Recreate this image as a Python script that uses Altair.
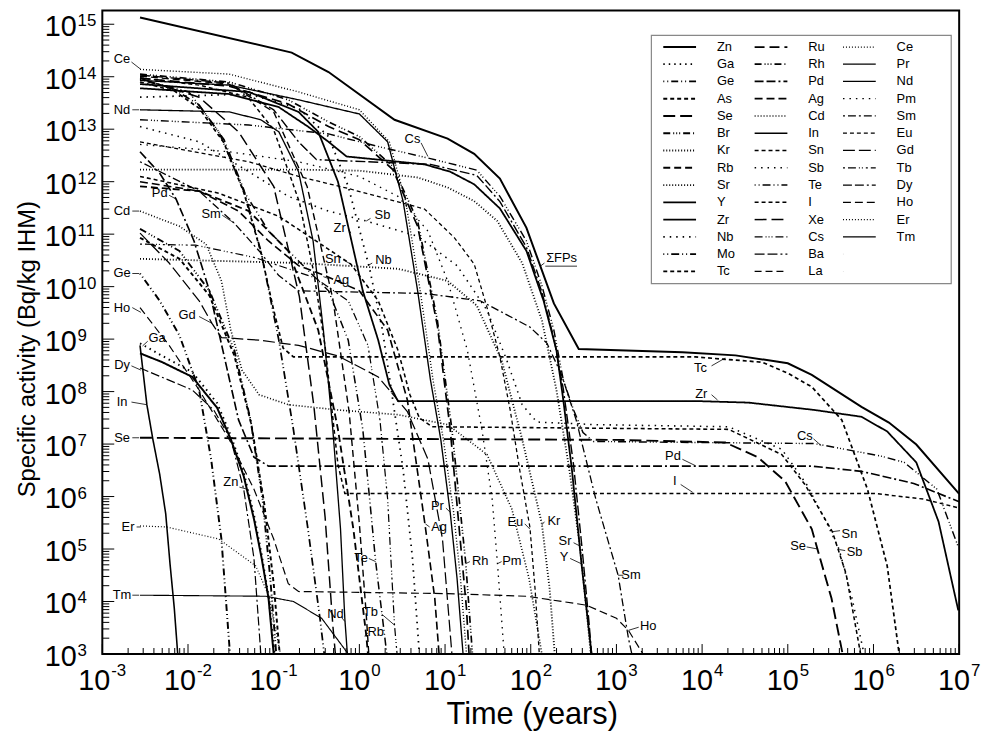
import altair as alt
import pandas as pd

FONT = "Liberation Sans"

# ---------------- curve data: (log10 time [years], log10 activity [Bq/kg IHM]) ----------------
SUM_FP = [(-2.56, 15.13), (-0.79, 14.46), (-0.36, 14.09), (0.41, 13.18), (1.03, 12.82), (1.34, 12.53),
          (1.64, 12.06), (1.95, 11.12), (2.27, 9.68), (2.56, 8.81), (3.77, 8.75), (4.39, 8.69),
          (5.00, 8.54), (5.28, 8.32), (5.86, 7.71), (6.18, 7.41), (6.50, 6.99), (7.00, 6.05)]

ZN = [(-2.56, 8.73), (-2.30, 8.56), (-1.95, 8.28), (-1.66, 7.69), (-1.50, 7.09), (-1.35, 6.39),
      (-1.23, 5.57), (-1.14, 4.82), (-1.06, 4.06), (-1.00, 3.0)]
GA = [(-2.56, 8.92), (-2.30, 8.68), (-1.95, 8.37), (-1.66, 7.78), (-1.50, 7.16), (-1.35, 6.46),
      (-1.23, 5.65), (-1.14, 4.89), (-1.06, 4.10), (-0.99, 3.0)]
GE = [(-2.56, 10.25), (-2.33, 9.73), (-2.10, 9.07), (-1.87, 8.03), (-1.73, 6.71), (-1.61, 5.19),
      (-1.55, 3.87), (-1.51, 3.0)]
AS = [(-2.56, 10.93), (-2.10, 10.53), (-1.75, 9.83), (-1.46, 8.69), (-1.26, 7.37), (-1.11, 5.86),
      (-1.00, 4.34), (-0.93, 3.0)]
SE = [(-2.56, 7.12), (3.00, 7.08), (4.27, 7.03), (4.65, 6.75), (4.97, 6.29), (5.28, 5.38), (5.51, 4.06),
      (5.64, 3.0)]
BR = [(-2.56, 11.10), (-2.10, 10.68), (-1.75, 9.92), (-1.46, 8.79), (-1.27, 7.46), (-1.13, 5.95),
      (-1.04, 4.44), (-0.97, 3.0)]
KR = [(-2.56, 10.53), (-0.71, 10.45), (0.45, 10.34), (1.03, 10.11), (1.37, 9.64), (1.66, 8.60),
      (1.90, 7.09), (2.13, 5.48), (2.22, 4.25), (2.28, 3.0)]
RB = [(-2.56, 11.91), (-1.87, 11.82), (-1.29, 11.44), (-0.83, 10.68), (-0.48, 9.17), (-0.25, 7.28),
      (-0.07, 5.38), (0.08, 3.36), (0.10, 3.0)]
SR = [(-2.56, 12.23), (-0.71, 12.23), (0.0, 12.21), (0.68, 12.08), (1.03, 11.89), (1.34, 11.63),
      (1.61, 11.25), (1.90, 10.45), (2.13, 9.36), (2.30, 8.03), (2.45, 6.52), (2.57, 5.10), (2.65, 3.87),
      (2.70, 3.0)]
Y_ = [(-2.56, 13.78), (-1.52, 13.67), (-0.94, 13.42), (-0.60, 13.05), (-0.36, 12.76), (-0.15, 12.48),
      (0.22, 12.42), (0.76, 12.33), (1.06, 12.19), (1.34, 11.95), (1.64, 11.49), (1.95, 10.68),
      (2.15, 9.73), (2.30, 8.79), (2.38, 7.84), (2.48, 6.52), (2.59, 4.76), (2.65, 3.87), (2.71, 3.0)]
ZR = [(-2.56, 13.86), (-1.29, 13.71), (-0.71, 13.33), (-0.48, 12.95), (-0.25, 12.00), (-0.11, 11.00),
      (0.04, 9.92), (0.22, 8.98), (0.35, 8.13), (0.45, 7.82), (3.92, 7.82), (4.54, 7.79), (5.31, 7.65),
      (5.86, 7.52), (6.16, 7.24), (6.50, 6.65), (6.76, 5.52), (6.99, 3.83)]
NB = [(-2.56, 13.61), (-1.29, 13.67), (-0.71, 13.40), (-0.36, 12.86), (-0.13, 11.91), (0.12, 10.34),
      (0.27, 9.17), (0.39, 7.84), (0.51, 6.52), (0.62, 4.82), (0.70, 3.0)]
MO = [(-2.56, 13.95), (-2.16, 13.76), (-1.87, 13.46), (-1.58, 12.80), (-1.35, 11.85), (-1.15, 10.68),
      (-0.94, 8.98), (-0.77, 7.28), (-0.60, 5.38), (-0.46, 3.68), (-0.41, 3.0)]
TC = [(-2.56, 13.90), (-2.16, 13.73), (-1.87, 13.40), (-1.58, 12.74), (-1.35, 11.80), (-1.15, 10.66),
      (-1.00, 9.55), (-0.89, 8.83), (-0.77, 8.66), (3.92, 8.66), (4.70, 8.56), (5.00, 8.35), (5.28, 8.09),
      (5.63, 7.46), (5.93, 6.14), (6.16, 4.68), (6.30, 3.0)]
RU = [(-2.56, 13.97), (-1.52, 13.82), (-0.83, 13.48), (-0.36, 13.05), (0.0, 12.80), (0.39, 12.23),
      (0.68, 11.15), (0.91, 9.26), (1.06, 7.28), (1.20, 4.76), (1.25, 3.87), (1.28, 3.0)]
RH = [(-2.56, 14.05), (-1.52, 13.90), (-0.83, 13.56), (-0.36, 13.14), (0.0, 12.86), (0.39, 12.29),
      (0.68, 11.25), (0.91, 9.36), (1.08, 7.28), (1.24, 4.76), (1.28, 3.87), (1.32, 3.0)]
PD = [(-2.56, 12.57), (-2.33, 12.16), (-2.14, 11.67), (-1.93, 10.87), (-1.75, 9.92), (-1.58, 8.69),
      (-1.41, 7.46), (-1.23, 6.75), (-1.06, 6.58), (5.28, 6.58), (5.86, 6.48), (6.47, 6.25), (7.00, 5.90)]
AG = [(-2.56, 12.00), (-1.87, 11.82), (-1.41, 11.44), (-1.06, 10.87), (-0.71, 10.40), (-0.40, 10.21),
      (0.0, 9.92), (0.33, 9.17), (0.56, 7.84), (0.77, 5.42), (0.88, 4.06), (0.93, 3.0)]
CD = [(-2.56, 11.44), (-2.10, 11.15), (-1.79, 10.81), (-1.61, 10.11), (-1.50, 9.17), (-1.37, 8.41),
      (-1.17, 7.94), (-0.83, 7.75), (-0.25, 7.65), (0.45, 7.56), (1.03, 7.37), (1.49, 6.80), (1.78, 5.76),
      (1.98, 4.44), (2.13, 3.0)]
IN = [(-2.56, 8.88), (-2.48, 7.75), (-2.41, 7.09), (-2.33, 6.42), (-2.26, 5.67), (-2.21, 4.72),
      (-2.16, 3.87), (-2.12, 3.0)]
SN = [(-2.56, 12.10), (-1.64, 11.78), (-0.94, 11.34), (-0.10, 10.43), (0.22, 9.73), (0.45, 8.79),
      (0.59, 7.94), (0.70, 7.50), (0.85, 7.33), (4.31, 7.28), (4.93, 6.80), (5.20, 6.23), (5.52, 5.33),
      (5.68, 4.53), (5.85, 3.0)]
SB = [(-2.56, 13.05), (-1.87, 12.76), (-1.29, 12.19), (-0.83, 11.72), (-0.36, 11.44), (0.08, 11.25),
      (0.68, 10.96), (1.14, 10.40), (1.49, 9.55), (1.72, 8.60), (1.90, 7.75), (2.07, 7.42), (2.76, 7.37),
      (4.31, 7.33), (4.93, 6.90), (5.22, 6.23), (5.46, 5.48), (5.60, 4.99), (5.75, 4.06), (5.89, 3.0)]
TE = [(-2.56, 13.95), (-1.99, 13.71), (-1.64, 12.95), (-1.35, 11.82), (-1.06, 11.06), (-0.71, 10.49),
      (-0.36, 9.92), (-0.13, 8.98), (0.04, 7.28), (0.12, 5.95), (0.19, 4.76), (0.27, 3.68), (0.32, 3.0)]
I_ = [(-2.56, 13.98), (-1.87, 13.84), (-1.30, 13.61), (-1.00, 12.99), (-0.70, 11.61), (-0.53, 10.25),
      (-0.40, 8.86), (-0.31, 7.50), (-0.25, 6.61), (-0.17, 6.06), (6.01, 6.06), (6.59, 5.95), (7.00, 5.78)]
XE = [(-2.56, 13.97), (-1.87, 13.61), (-1.41, 12.95), (-1.00, 11.91), (-0.70, 9.81), (-0.53, 7.71),
      (-0.40, 5.61), (-0.31, 3.55), (-0.28, 3.0)]
CS = [(-2.56, 13.18), (-1.29, 13.08), (-0.36, 12.91), (0.22, 12.67), (0.83, 12.44), (1.37, 12.22),
      (1.64, 11.72), (1.95, 10.87), (2.13, 10.02), (2.27, 9.17), (2.38, 8.22), (2.50, 7.65), (2.61, 7.22),
      (2.73, 7.05), (3.92, 7.03), (5.31, 7.01), (6.09, 6.77), (6.36, 6.65), (6.74, 6.14), (6.99, 5.04)]
BA = [(-2.56, 14.03), (-1.52, 13.88), (-1.00, 13.37), (-0.71, 12.76), (-0.50, 12.42), (0.83, 12.33),
      (1.37, 12.12), (1.64, 11.62), (1.95, 10.75), (2.13, 9.90), (2.27, 9.02), (2.38, 8.05), (2.50, 6.60),
      (2.60, 5.00), (2.68, 3.60), (2.71, 3.0)]
LA = [(-2.56, 14.01), (-1.52, 13.86), (-1.00, 13.33), (-0.61, 11.91), (-0.31, 9.77), (-0.12, 7.62),
      (0.0, 5.48), (0.08, 3.76), (0.11, 3.0)]
CE = [(-2.56, 14.14), (-1.52, 14.05), (-0.71, 13.71), (0.0, 13.37), (0.35, 12.76), (0.54, 11.63),
      (0.71, 9.92), (0.86, 8.22), (0.98, 7.09), (1.10, 5.70), (1.18, 4.44), (1.25, 3.0)]
PR = [(-2.56, 13.93), (-1.52, 13.84), (-0.71, 13.56), (0.0, 13.29), (0.33, 12.76), (0.51, 11.63),
      (0.68, 9.92), (0.83, 8.22), (0.95, 7.09), (1.06, 5.70), (1.14, 4.44), (1.21, 3.0)]
ND = [(-2.56, 13.37), (-1.52, 13.33), (-1.15, 13.18), (-0.94, 12.95), (-0.71, 12.19), (-0.54, 10.87),
      (-0.42, 9.17), (-0.31, 7.28), (-0.22, 5.38), (-0.17, 3.68), (-0.14, 3.0)]
PM = [(-2.56, 12.71), (-1.52, 12.57), (-0.71, 12.38), (0.0, 12.10), (0.45, 11.72), (0.80, 11.06),
      (1.03, 10.11), (1.26, 8.79), (1.43, 7.28), (1.55, 5.95), (1.61, 4.76), (1.69, 3.0)]
SM = [(-2.56, 12.38), (-1.87, 11.82), (-1.46, 11.21), (-1.17, 10.68), (-0.94, 10.21), (-0.71, 9.92),
      (0.76, 9.87), (1.41, 9.73), (1.69, 9.49), (1.99, 9.23), (2.19, 8.92), (2.36, 8.32), (2.53, 7.46),
      (2.76, 5.95), (3.02, 4.50), (3.14, 3.30), (3.18, 3.0)]
EU = [(-2.56, 12.76), (-1.29, 12.38), (-0.71, 12.10), (-0.13, 11.87), (0.76, 11.48), (1.11, 10.93),
      (1.34, 10.43), (1.49, 9.60), (1.64, 8.66), (1.76, 7.65), (1.87, 6.52), (1.99, 5.42), (2.05, 4.25),
      (2.10, 3.0)]
GD = [(-2.56, 11.02), (-2.22, 10.45), (-1.87, 9.73), (-1.72, 9.30), (-1.61, 9.03), (-1.17, 8.98),
      (-0.71, 8.88), (-0.25, 8.68), (0.22, 8.28), (0.56, 7.62), (0.80, 6.71), (0.97, 5.19), (1.08, 3.0)]
TB = [(-2.56, 10.81), (-1.91, 10.79), (-1.21, 10.55), (-0.52, 10.17), (-0.13, 9.73), (0.10, 8.88),
      (0.24, 7.46), (0.33, 5.95), (0.41, 3.55), (0.44, 3.0)]
DY = [(-2.56, 8.45), (-1.95, 8.03), (-1.70, 7.65), (-1.50, 7.09), (-1.35, 6.14), (-1.23, 4.82),
      (-1.15, 3.0)]
HO = [(-2.56, 9.60), (-2.22, 8.88), (-1.87, 8.03), (-1.52, 7.09), (-1.23, 6.14), (-1.00, 5.19),
      (-0.83, 4.34), (-0.71, 4.19), (1.03, 4.15), (1.95, 4.10), (2.65, 3.93), (3.00, 3.68), (3.14, 3.45),
      (3.31, 3.0)]
ER = [(-2.56, 5.44), (-2.25, 5.42), (-1.64, 5.19), (-1.21, 4.68), (-1.06, 4.12), (-0.92, 3.0)]
TM = [(-2.56, 4.12), (-1.09, 4.10), (-0.77, 4.00), (-0.44, 3.68), (-0.13, 3.0)]

# legend columns (as printed in the figure)
LEGEND_COL1 = ["Zn", "Ga", "Ge", "As", "Se", "Br", "Kr", "Rb", "Sr", "Y", "Zr", "Nb", "Mo", "Tc"]
LEGEND_COL2 = ["Ru", "Rh", "Pd", "Ag", "Cd", "In", "Sn", "Sb", "Te", "I", "Xe", "Cs", "Ba", "La"]
LEGEND_COL3 = ["Ce", "Pr", "Nd", "Pm", "Sm", "Eu", "Gd", "Tb", "Dy", "Ho", "Er", "Tm"]

# curve labels: (text, log10 t, log10 A)
LABELS = [("Ce", -2.77, 14.33), ("Nd", -2.77, 13.37), ("Cd", -2.77, 11.44), ("Ge", -2.77, 10.25),
          ("Ho", -2.77, 9.60), ("Ga", -2.36, 9.02), ("Dy", -2.77, 8.51), ("In", -2.77, 7.80),
          ("Se", -2.77, 7.12), ("Er", -2.70, 5.42), ("Tm", -2.77, 4.12), ("Pd", -2.33, 11.78),
          ("Sm", -1.73, 11.38), ("Gd", -2.01, 9.45), ("Zn", -1.50, 6.27), ("Sn", -0.31, 10.53),
          ("Zr", -0.23, 11.12), ("Sb", 0.27, 11.36), ("Nb", 0.28, 10.51), ("Ag", -0.21, 10.13),
          ("Cs", 0.62, 12.82), ("\u03a3FPs", 2.36, 10.55), ("Te", 0.02, 4.83), ("Nd", -0.28, 3.77),
          ("Tb", 0.13, 3.79), ("Rb", 0.19, 3.42), ("Pr", 0.91, 5.82), ("Ag", 0.93, 5.42),
          ("Rh", 1.41, 4.78), ("Pm", 1.78, 4.78), ("Eu", 1.82, 5.52), ("Kr", 2.27, 5.53),
          ("Sr", 2.40, 5.16), ("Y", 2.39, 4.85), ("Sm", 3.17, 4.51), ("Ho", 3.37, 3.53),
          ("Tc", 3.98, 8.45), ("Zr", 3.99, 7.96), ("Cs", 5.20, 7.16), ("Pd", 3.66, 6.77),
          ("I", 3.68, 6.29), ("Se", 5.12, 5.06), ("Sn", 5.72, 5.29), ("Sb", 5.78, 4.95)]

# leader lines from labels to curves: ((log t, log A), (log t, log A))
LEADERS = [((-2.66, 14.28), (-2.55, 14.14)), ((-2.65, 13.37), (-2.57, 13.37)),
           ((-2.65, 11.44), (-2.57, 11.44)), ((-2.65, 10.25), (-2.57, 10.25)),
           ((-2.65, 9.60), (-2.55, 9.51)), ((-2.47, 8.96), (-2.53, 8.87)),
           ((-2.66, 8.49), (-2.55, 8.41)), ((-2.66, 7.80), (-2.48, 7.75)),
           ((-2.65, 7.12), (-2.57, 7.12)), ((-2.60, 5.42), (-2.55, 5.42)),
           ((-2.65, 4.12), (-2.57, 4.12)), ((-2.22, 11.74), (-2.14, 11.67)),
           ((-1.60, 11.36), (-1.46, 11.21)), ((-1.87, 9.43), (-1.72, 9.30)),
           ((-1.40, 6.18), (-1.31, 6.14)), ((-0.19, 10.51), (-0.10, 10.43)),
           ((-0.13, 11.10), (-0.10, 11.02)), ((0.13, 11.30), (0.08, 11.25)),
           ((0.15, 10.45), (0.10, 10.40)), ((-0.35, 10.15), (-0.42, 10.19)),
           ((0.72, 12.74), (0.80, 12.48)), ((2.16, 10.45), (2.12, 10.40)),
           ((2.17, 10.39), (2.54, 10.39)), ((0.11, 4.82), (0.19, 4.76)),
           ((-0.21, 3.70), (-0.17, 3.62)), ((0.26, 3.76), (0.41, 3.55)),
           ((0.10, 3.40), (0.06, 3.34)), ((1.01, 5.78), (1.06, 5.70)),
           ((0.82, 5.42), (0.77, 5.48)), ((1.29, 4.76), (1.24, 4.72)),
           ((1.66, 4.76), (1.61, 4.72)), ((1.93, 5.48), (1.99, 5.38)),
           ((2.16, 5.52), (2.13, 5.46)), ((2.50, 5.12), (2.57, 5.06)),
           ((2.46, 4.82), (2.59, 4.72)), ((3.08, 4.50), (3.02, 4.50)),
           ((3.26, 3.51), (3.14, 3.45)), ((4.11, 8.49), (4.27, 8.64)),
           ((4.11, 7.94), (4.18, 7.84)), ((5.30, 7.10), (5.39, 6.97)),
           ((3.77, 6.71), (3.92, 6.59)), ((3.75, 6.23), (3.89, 6.08)),
           ((5.22, 5.04), (5.35, 5.00)), ((5.61, 5.35), (5.52, 5.33)),
           ((5.67, 4.97), (5.60, 4.99))]

X_EXPONENTS = list(range(-3, 8))
Y_EXPONENTS = list(range(3, 16))

# ---------------- styles ----------------
SOLID = [1, 0]
HIDDEN = ([0.1, 1000], 0.1)
STYLE = {
    "Zn": (SOLID, 2.0), "Ga": ([1.5, 4], 1.1), "Ge": ([1, 3, 1, 3, 7, 3], 1.1), "As": ([4, 3], 1.1),
    "Se": ([12, 5], 1.3), "Br": ([7, 3, 1, 2, 1, 2, 1, 3], 1.1), "Kr": ([1, 2], 1.1), "Rb": ([7, 4], 2.0),
    "Sr": ([1, 2], 1.1), "Y": (SOLID, 2.0), "Zr": (SOLID, 2.0), "Nb": ([1.5, 5], 1.1),
    "Mo": ([1, 3, 1, 3, 8, 3], 1.3), "Tc": ([4, 3], 1.1),
    "Ru": ([10, 5], 2.0), "Rh": ([7, 3, 1, 2, 1, 2, 1, 3], 1.3), "Pd": ([9, 3, 9, 3, 2, 3], 2.0),
    "Ag": ([8, 4], 1.1), "Cd": ([1, 2], 1.1), "In": (SOLID, 2.0), "Sn": ([4, 3], 1.1),
    "Sb": ([1.5, 5], 1.1), "Te": ([1, 3, 1, 3, 8, 3], 1.1), "I": ([4, 3], 1.1), "Xe": ([12, 5], 2.0),
    "Cs": ([8, 3, 1, 2, 1, 2, 1, 3], 1.3), "Ba": ([10, 3, 10, 3, 2, 3], 1.1), "La": ([7, 4], 2.0),
    "Ce": ([1, 2], 1.1), "Pr": (SOLID, 1.1), "Nd": (SOLID, 2.0), "Pm": ([1.5, 5], 1.1),
    "Sm": ([2, 3, 8, 3], 1.3), "Eu": ([4, 3], 1.1), "Gd": ([12, 4], 1.1),
    "Tb": ([2, 3, 8, 3, 1, 2, 1, 3], 1.1), "Dy": ([9, 3, 9, 3, 2, 3], 2.0), "Ho": ([8, 4], 1.1),
    "Er": ([1, 2], 1.1), "Tm": (SOLID, 1.1),
}

SERIES = [("Zn", ZN), ("Ga", GA), ("Ge", GE), ("As", AS), ("Se", SE), ("Br", BR), ("Kr", KR), ("Rb", RB),
          ("Sr", SR), ("Y", Y_), ("Zr", ZR), ("Nb", NB), ("Mo", MO), ("Tc", TC), ("Ru", RU), ("Rh", RH),
          ("Pd", PD), ("Ag", AG), ("Cd", CD), ("In", IN), ("Sn", SN), ("Sb", SB), ("Te", TE), ("I", I_),
          ("Xe", XE), ("Cs", CS), ("Ba", BA), ("La", LA), ("Ce", CE), ("Pr", PR), ("Nd", ND), ("Pm", PM),
          ("Sm", SM), ("Eu", EU), ("Gd", GD), ("Tb", TB), ("Dy", DY), ("Ho", HO), ("Er", ER), ("Tm", TM)]

# ---------------- tables ----------------
rows = []
for name, pts in SERIES:
    for lt, la in pts:
        rows.append({"element": name, "t": 10 ** lt, "A": 10 ** la})
lines_df = pd.DataFrame(rows)
sum_df = pd.DataFrame({"t": [10 ** p[0] for p in SUM_FP], "A": [10 ** p[1] for p in SUM_FP]})
labels_df = pd.DataFrame({"text": [l[0] for l in LABELS], "t": [10 ** l[1] for l in LABELS],
                          "A": [10 ** l[2] for l in LABELS]})
lead_rows = []
for i, (a, b) in enumerate(LEADERS):
    lead_rows.append({"id": i, "t": 10 ** a[0], "A": 10 ** a[1]})
    lead_rows.append({"id": i, "t": 10 ** b[0], "A": 10 ** b[1]})
leaders_df = pd.DataFrame(lead_rows)

# legend ordering: 3 full columns of 14 (two invisible fillers close the third column)
order = LEGEND_COL1 + LEGEND_COL2 + LEGEND_COL3 + ["_b1", "_b2"]
dash_range = [STYLE.get(e, HIDDEN)[0] for e in order]
width_range = [STYLE.get(e, HIDDEN)[1] for e in order]

W, H = 863, 648
xscale = alt.Scale(type="log", domain=[1e-3, 1e7], nice=False)
yscale = alt.Scale(type="log", domain=[1e3, 1.82e15], nice=False)
X = alt.X("t:Q", scale=xscale, axis=None)
Yenc = alt.Y("A:Q", scale=yscale, axis=None)

leg = alt.Legend(title=None, orient="none", legendX=568, legendY=23, columns=3,
                 symbolType="M-2.2,0H2.2", symbolSize=225, symbolStrokeColor="black",
                 labelFont=FONT, labelFontSize=13, labelColor="black", labelOffset=29,
                 rowPadding=1.4, columnPadding=15, padding=5, symbolLimit=60,
                 labelExpr="substring(datum.label,0,1)=='_' ? '' : datum.label")

curves = alt.Chart(lines_df).mark_line(color="black", clip=True, strokeCap="butt").encode(
    x=X, y=Yenc,
    strokeDash=alt.StrokeDash("element:N", scale=alt.Scale(domain=order, range=dash_range), legend=leg),
    strokeWidth=alt.StrokeWidth("element:N", scale=alt.Scale(domain=order, range=width_range), legend=leg),
)
sum_line = alt.Chart(sum_df).mark_line(color="black", strokeWidth=2, clip=True).encode(x=X, y=Yenc)
leaders = alt.Chart(leaders_df).mark_line(color="black", strokeWidth=0.8).encode(x=X, y=Yenc, detail="id:N")
labels = alt.Chart(labels_df).mark_text(font=FONT, fontSize=13, color="black").encode(x=X, y=Yenc, text="text:N")

# legend frame (drawn behind the legend entries)
legend_box = alt.Chart(pd.DataFrame({"k": [0]})).mark_rect(
    fill="white", stroke="#888888", strokeWidth=1.2).encode(
    x=alt.value(553), x2=alt.value(855), y=alt.value(25), y2=alt.value(275))

# ticks (inside, left and bottom)
xmaj = pd.DataFrame({"t": [10.0 ** e for e in X_EXPONENTS]})
xmin = pd.DataFrame({"t": [k * 10.0 ** e for e in range(-3, 7) for k in range(2, 10)]})
ymaj = pd.DataFrame({"A": [10.0 ** e for e in Y_EXPONENTS]})
ymin = pd.DataFrame({"A": [k * 10.0 ** e for e in range(3, 15) for k in range(2, 10)]})
xt1 = alt.Chart(xmaj).mark_rule(color="black", strokeWidth=1).encode(x=X, y=alt.value(H), y2=alt.value(H - 10))
xt2 = alt.Chart(xmin).mark_rule(color="black", strokeWidth=1).encode(x=X, y=alt.value(H), y2=alt.value(H - 6))
yt1 = alt.Chart(ymaj).mark_rule(color="black", strokeWidth=1).encode(y=Yenc, x=alt.value(0), x2=alt.value(12))
yt2 = alt.Chart(ymin).mark_rule(color="black", strokeWidth=1).encode(y=Yenc, x=alt.value(0), x2=alt.value(7))

# tick labels "10" with superscript exponent
xl = pd.DataFrame({"t": [10.0 ** e for e in X_EXPONENTS], "exp": [str(e) for e in X_EXPONENTS],
                   "base": ["10"] * len(X_EXPONENTS)})
xl_long = xl[xl["exp"].str.len() > 1]
xl_short = xl[xl["exp"].str.len() == 1]
BASE_FS, EXP_FS = 29, 17
xb1 = alt.Chart(xl_short).mark_text(font=FONT, fontSize=BASE_FS, align="right", baseline="middle", dx=11).encode(
    x=X, y=alt.value(H + 27), text="base:N")
xe1 = alt.Chart(xl_short).mark_text(font=FONT, fontSize=EXP_FS, align="left", baseline="middle", dx=12).encode(
    x=X, y=alt.value(H + 17), text="exp:N")
xb2 = alt.Chart(xl_long).mark_text(font=FONT, fontSize=BASE_FS, align="right", baseline="middle", dx=8).encode(
    x=X, y=alt.value(H + 27), text="base:N")
xe2 = alt.Chart(xl_long).mark_text(font=FONT, fontSize=EXP_FS, align="left", baseline="middle", dx=9).encode(
    x=X, y=alt.value(H + 17), text="exp:N")
yl = pd.DataFrame({"A": [10.0 ** e for e in Y_EXPONENTS], "exp": [str(e) for e in Y_EXPONENTS],
                   "base": ["10"] * len(Y_EXPONENTS)})
yb = alt.Chart(yl).mark_text(font=FONT, fontSize=BASE_FS, align="left", baseline="middle", dy=3).encode(
    y=Yenc, x=alt.value(-58), text="base:N")
ye = alt.Chart(yl).mark_text(font=FONT, fontSize=EXP_FS, align="left", baseline="middle", dy=-3).encode(
    y=Yenc, x=alt.value(-25), text="exp:N")

ytitle = alt.Chart(pd.DataFrame({"s": ["Specific activity (Bq/kg IHM)"]})).mark_text(
    font=FONT, fontSize=24, angle=270, align="center", baseline="middle").encode(
    text="s:N", x=alt.value(-75), y=alt.value(341))
xtitle = alt.Chart(pd.DataFrame({"s": ["Time (years)"]})).mark_text(
    font=FONT, fontSize=31, align="center", baseline="alphabetic").encode(
    text="s:N", x=alt.value(433), y=alt.value(719))

chart = alt.layer(
    xt1, xt2, yt1, yt2, curves, sum_line, leaders, labels, legend_box,
    xb1, xe1, xb2, xe2, yb, ye, ytitle, xtitle
).properties(
    width=W, height=H,
    autosize=alt.AutoSizeParams(type="none"),
    padding={"left": 95, "top": 0, "right": 22, "bottom": 80},
).configure_view(stroke="black", strokeWidth=2)

chart.save("out.html", embed_options={"renderer": "svg", "actions": False})
